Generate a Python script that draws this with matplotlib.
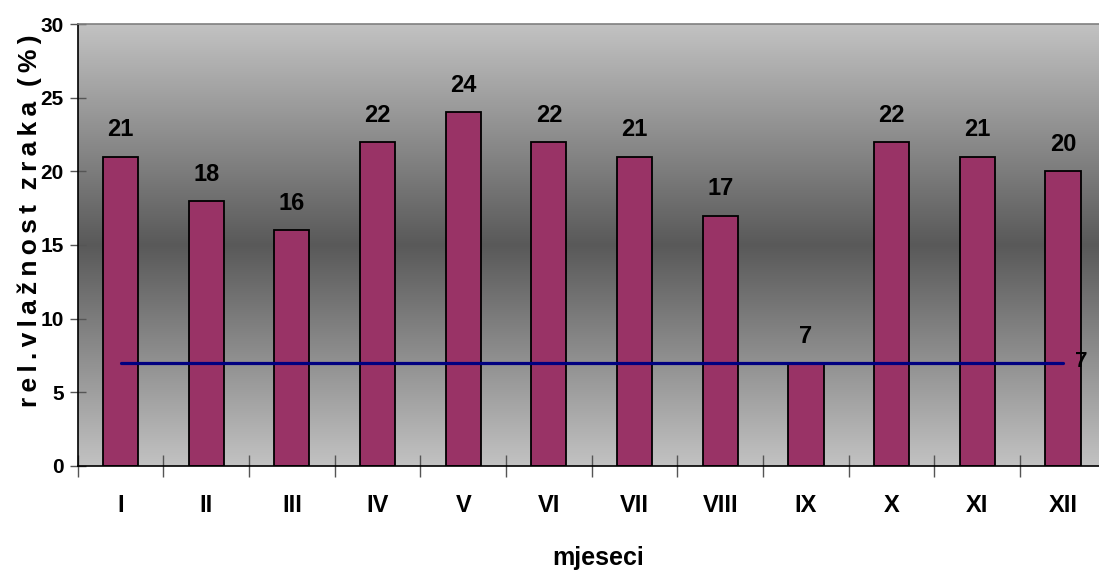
import numpy as np
import matplotlib
matplotlib.use("Agg")
import matplotlib.pyplot as plt
from matplotlib import font_manager
from matplotlib.colors import LinearSegmentedColormap

# Monthly values of relative air humidity
months = ["I", "II", "III", "IV", "V", "VI", "VII", "VIII", "IX", "X", "XI", "XII"]
humidity = [21, 18, 16, 22, 24, 22, 21, 17, 7, 22, 21, 20]
reference_level = 7
y_ticks = [0, 5, 10, 15, 20, 25, 30]

names = {f.name for f in font_manager.fontManager.ttflist}
family = "Liberation Sans Narrow" if "Liberation Sans Narrow" in names else "Liberation Sans"
plt.rcParams["font.family"] = [family, "DejaVu Sans"]
plt.rcParams["font.weight"] = "bold"

fig = plt.figure(figsize=(10.99, 5.77), dpi=100)
ax = fig.add_axes([0.0707, 0.1924, 0.9355, 0.766])

x = np.arange(len(months))
ax.set_xlim(-0.5, len(months) - 0.5)
ax.set_ylim(0, 30)

# Vertical grey gradient behind the bars: light at edges, dark in the middle
cmap = LinearSegmentedColormap.from_list("bg", ["#c2c2c2", "#595959", "#c2c2c2"])
grad = np.linspace(0, 1, 256).reshape(-1, 1)
ax.imshow(grad, cmap=cmap, aspect="auto", extent=[0, 1, 0, 1],
          transform=ax.transAxes, zorder=0, interpolation="bicubic")

ax.bar(x, humidity, width=0.41, color="#993366", edgecolor="black",
       linewidth=1.3, zorder=2)

for xi, v in zip(x, humidity):
    ax.annotate(str(v), (xi, v), xytext=(0, 11), textcoords="offset points",
                ha="center", va="bottom", fontsize=17, fontweight="bold")

ax.plot([x[0], x[-1]], [reference_level] * 2, color="#000080", lw=2.3,
        solid_capstyle="round", zorder=3)
ax.annotate(str(reference_level), (x[-1], reference_level), xytext=(9, 1),
            textcoords="offset points", ha="left", va="center",
            fontsize=16, fontweight="bold")

ax.set_yticks(y_ticks)
ax.set_yticklabels([str(t) for t in y_ticks], fontsize=15, fontweight="bold")
ax.set_xticks(x)
ax.set_xticklabels(months, fontsize=17, fontweight="bold")
ax.tick_params(axis="x", length=0, pad=20)
ax.set_xticks(np.arange(-0.5, len(months)), minor=True)
ax.tick_params(axis="x", which="minor", direction="inout", length=16,
               color="#555555", width=1)
ax.tick_params(axis="y", direction="inout", length=12, color="#555555",
               width=1, pad=4)

for side in ["top", "right"]:
    ax.spines[side].set_color("#808080")
    ax.spines[side].set_linewidth(1.2)
ax.spines["left"].set_color("black")
ax.spines["bottom"].set_color("black")
ax.spines["left"].set_linewidth(1.2)
ax.spines["bottom"].set_linewidth(1.2)

ax.set_xlabel("mjeseci", fontsize=18, fontweight="bold")
ax.xaxis.set_label_coords(0.506, -0.182)
hs = "\u2009"
ylabel = hs.join("rel.vlažnost") + "  " + hs.join("zraka") + "  " + hs.join("(%)")
ax.set_ylabel(ylabel, fontsize=19, fontweight="bold")
ax.yaxis.set_label_coords(-0.035, 0.555)

fig.savefig("out.png", dpi=100)
